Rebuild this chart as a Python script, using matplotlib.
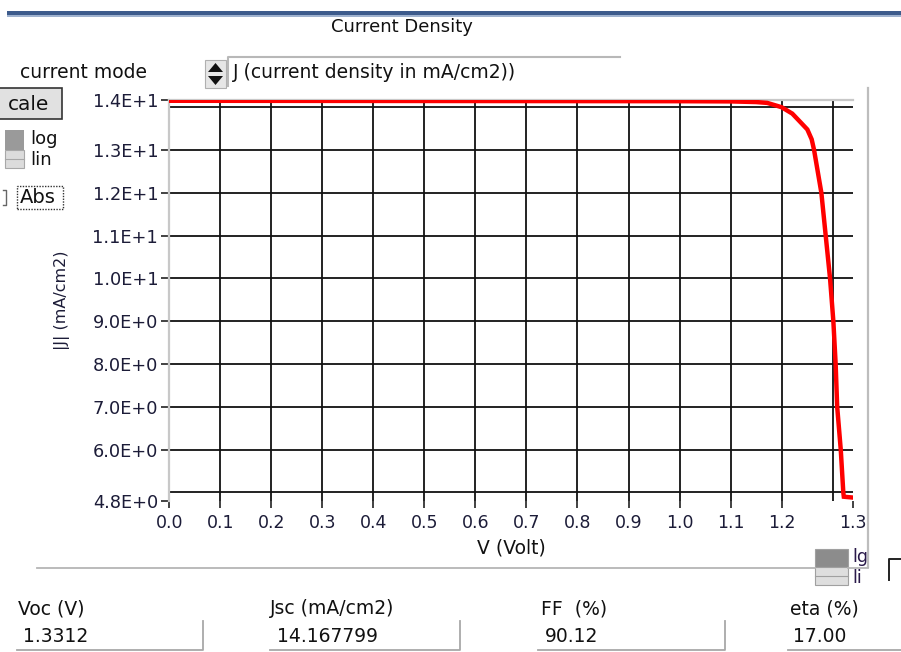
import matplotlib
matplotlib.use("Agg")
import matplotlib.pyplot as plt
from matplotlib.patches import Rectangle, Polygon
from matplotlib.lines import Line2D

# ---------------- data ----------------
voltage = [0.0, 0.2, 0.4, 0.6, 0.8, 1.0, 1.1, 1.15, 1.172, 1.2, 1.221, 1.237,
           1.2505, 1.259, 1.2637, 1.278, 1.2865, 1.295, 1.3015, 1.306, 1.309,
           1.316, 1.321, 1.322, 1.34]
current_density = [14.15, 14.148, 14.146, 14.144, 14.142, 14.14, 14.135, 14.12,
                   14.10, 14.0, 13.85, 13.65, 13.48, 13.25, 13.0, 12.0, 11.0,
                   10.0, 9.0, 8.0, 7.0, 6.0, 5.0, 4.9, 4.88]

x_min, x_max = 0.0, 1.34
y_min, y_max = 4.8, 14.168
x_grid = [0.1, 0.2, 0.3, 0.4, 0.5, 0.6, 0.7, 0.8, 0.9, 1.0, 1.1, 1.2, 1.3]
y_grid = [5, 6, 7, 8, 9, 10, 11, 12, 13, 14]
x_tick_values = [0.0, 0.1, 0.2, 0.3, 0.4, 0.5, 0.6, 0.7, 0.8, 0.9, 1.0, 1.1, 1.2, 1.34]
x_tick_labels = ["0.0", "0.1", "0.2", "0.3", "0.4", "0.5", "0.6", "0.7", "0.8",
                 "0.9", "1.0", "1.1", "1.2", "1.3"]
y_tick_values = [4.8, 6, 7, 8, 9, 10, 11, 12, 13, 14.168]
y_tick_labels = ["4.8E+0", "6.0E+0", "7.0E+0", "8.0E+0", "9.0E+0", "1.0E+1",
                 "1.1E+1", "1.2E+1", "1.3E+1", "1.4E+1"]

result_names = ["Voc (V)", "Jsc (mA/cm2)", "FF  (%)", "eta (%)"]
result_values = ["1.3312", "14.167799", "90.12", "17.00"]

# ---------------- figure ----------------
W, H = 901, 652
fig = plt.figure(figsize=(W / 100, H / 100), dpi=100)
fig.patch.set_facecolor("white")
plt.rcParams["font.family"] = ["DejaVu Sans"]


def fx(x):
    return x / W


def fy(y):
    return 1 - y / H


def frect(x0, y0, x1, y1, **kw):
    fig.patches.append(Rectangle((fx(x0), fy(y1)), fx(x1) - fx(x0), fy(y0) - fy(y1),
                                 transform=fig.transFigure, **kw))


def fline(xs, ys, **kw):
    fig.lines.append(Line2D([fx(v) for v in xs], [fy(v) for v in ys],
                            transform=fig.transFigure, **kw))


ax_l, ax_r, ax_t, ax_b = 169.3, 853, 100, 501
ax = fig.add_axes([fx(ax_l), fy(ax_b), fx(ax_r) - fx(ax_l), fy(ax_t) - fy(ax_b)])
ax.set_xlim(x_min, x_max)
ax.set_ylim(y_min, y_max)
ax.set_facecolor("white")

for v in x_grid:
    ax.axvline(v, color="#111111", lw=1.3, zorder=1)
for v in y_grid:
    ax.axhline(v, color="#111111", lw=1.3, zorder=1)

ax.plot(voltage, current_density, color="#ff0000", lw=3.2, zorder=3,
        solid_joinstyle="miter")

for s in ["right", "bottom"]:
    ax.spines[s].set_visible(False)
for s in ["left", "top"]:
    ax.spines[s].set_color("#c8c8c8")
    ax.spines[s].set_linewidth(1.6)

tick_color = "#1c1c38"
ax.set_xticks(x_tick_values)
ax.set_xticklabels(x_tick_labels)
ax.set_yticks(y_tick_values)
ax.set_yticklabels(y_tick_labels)
ax.tick_params(axis="x", direction="out", length=5, width=1.2, color="#222222",
               pad=4, labelsize=12.5, labelcolor=tick_color)
ax.tick_params(axis="y", direction="out", length=6, width=1.2, color="#222222",
               pad=2, labelsize=12.8, labelcolor=tick_color)

# axis labels
fig.text(fx(62), fy(300), "|J| (mA/cm2)", rotation=90, ha="center", va="center",
         fontsize=11.5, color=tick_color)
fig.text(fx(511), fy(548), "V (Volt)", ha="center", va="center", fontsize=13.5,
         color="#111111")

# ---------------- surrounding UI ----------------
# top bar
frect(7, 11.5, 901, 15, facecolor="#3d5b8c", edgecolor="none")
frect(7, 15, 901, 16.5, facecolor="#9fb2cf", edgecolor="none")
fig.text(fx(402), fy(27), "Current Density", ha="center", va="center",
         fontsize=13, color="#111111")

# current mode
fig.text(fx(20), fy(73), "current mode", ha="left", va="center", fontsize=13.5,
         color="#111111")
frect(205, 60, 226, 88, facecolor="#e6e6e6", edgecolor="#b0b0b0", lw=0.8)
fig.patches.append(Polygon([(fx(208), fy(72)), (fx(223), fy(72)), (fx(215.5), fy(63))],
                           closed=True, transform=fig.transFigure,
                           facecolor="#111111", edgecolor="none"))
fig.patches.append(Polygon([(fx(208), fy(76)), (fx(223), fy(76)), (fx(215.5), fy(85))],
                           closed=True, transform=fig.transFigure,
                           facecolor="#111111", edgecolor="none"))
fline([228, 228, 620], [86, 57, 57], color="#b8b8b8", lw=1.5)
fig.text(fx(233), fy(73), "J (current density in mA/cm2))", ha="left", va="center",
         fontsize=13.5, color="#111111")

# scale button
frect(-2, 88, 62, 119, facecolor="#e1e1e1", edgecolor="#333333", lw=1.2)
fig.text(fx(8), fy(104), "cale", ha="left", va="center", fontsize=14.5,
         color="#111111")

# log/lin toggle
frect(5, 130, 24, 150, facecolor="#9a9a9a", edgecolor="none")
frect(5, 150, 24, 168, facecolor="#dcdcdc", edgecolor="#a8a8a8", lw=0.8)
fline([5, 24], [159, 159], color="#a8a8a8", lw=0.8)
fig.text(fx(30), fy(139), "log", ha="left", va="center", fontsize=13,
         color="#111111")
fig.text(fx(30), fy(160), "lin", ha="left", va="center", fontsize=13,
         color="#111111")

# Abs checkbox
fline([3, 6, 6, 3], [190, 190, 205, 205], color="#666666", lw=1.0)
frect(17, 186, 63, 209, facecolor="none", edgecolor="#333333", lw=1.0,
      linestyle=(0, (1, 1)))
fig.text(fx(20), fy(197.5), "Abs", ha="left", va="center", fontsize=14,
         color="#111111")

# right border + bottom separator
fline([868, 868], [88, 567], color="#bdbdbd", lw=1.6)
fline([37, 815], [567.5, 567.5], color="#b5b5b5", lw=1.3)
fline([848, 868], [567.5, 567.5], color="#b5b5b5", lw=1.3)

# lg/li toggle
frect(815, 549, 848, 567, facecolor="#8c8c8c", edgecolor="#a0a0a0", lw=0.8)
frect(815, 567, 848, 585, facecolor="#dedede", edgecolor="#a0a0a0", lw=0.8)
fline([815, 848], [576, 576], color="#a0a0a0", lw=0.8)
fig.text(fx(852), fy(557), "lg", ha="left", va="center", fontsize=12.5,
         color="#2a1a4a")
fig.text(fx(852), fy(578), "li", ha="left", va="center", fontsize=12.5,
         color="#2a1a4a")
fline([889, 889, 901], [580, 559, 559], color="#222222", lw=1.4)

# results
name_x = [18, 270, 541, 790]
val_x = [23, 277, 545, 793]
box_x0 = [17, 270, 538, 788]
box_x1 = [203, 460, 725, 905]
for name, val, nx, vx, b0, b1 in zip(result_names, result_values, name_x, val_x,
                                     box_x0, box_x1):
    fig.text(fx(nx), fy(609), name, ha="left", va="center", fontsize=13.5,
             color="#111111")
    fig.text(fx(vx), fy(636), val, ha="left", va="center", fontsize=13.5,
             color="#111111")
    fline([b0, b1, b1], [650, 650, 621], color="#a8a8a8", lw=1.3)

fig.savefig("out.png", dpi=100, facecolor="white")
